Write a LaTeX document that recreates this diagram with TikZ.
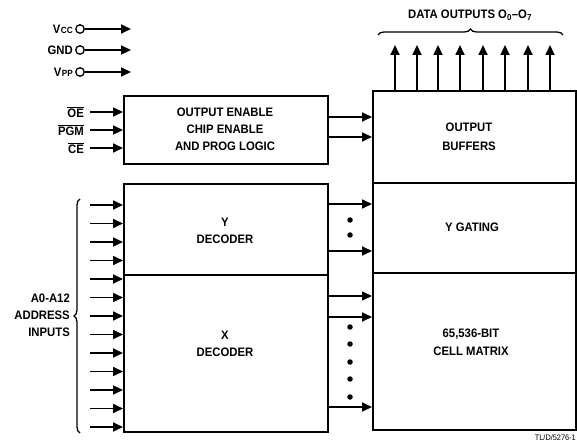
\documentclass[tikz,border=0pt]{standalone}
\usepackage{fontspec}
\setmainfont{Liberation Sans}[FakeStretch=0.92]
\usetikzlibrary{arrows.meta,decorations.pathreplacing,calc}
\begin{document}
\begin{tikzpicture}[x=1pt,y=-1pt,
  blk/.style={draw,line width=1.7pt,inner sep=0pt,anchor=north west},
  arr/.style={line width=1.7pt,-{Triangle[length=10pt,width=9pt]}},
  lbl/.style={font=\bfseries\fontsize{12.3}{14}\selectfont,align=center,inner sep=1pt},
  pin/.style={draw,circle,line width=1.3pt,minimum size=8.5pt,inner sep=0pt},
  dotc/.style={fill,circle,minimum size=5.5pt,inner sep=0pt},
  brc/.style={decorate,decoration={brace,amplitude=6pt},line width=1.3pt}]
\useasboundingbox (0,0) rectangle (577,443);
% blocks
\node[blk,minimum width=204pt,minimum height=68pt] (logic) at (123,95) {};
\node[blk,minimum width=204pt,minimum height=91pt] (ydec) at (123,183) {};
\node[blk,minimum width=204pt,minimum height=157pt] (xdec) at (123,274) {};
\node[blk,minimum width=203pt,minimum height=92pt] (obuf) at (372,90) {};
\node[blk,minimum width=203pt,minimum height=90pt] (ygat) at (372,182) {};
\node[blk,minimum width=203pt,minimum height=157pt] (cell) at (372,272) {};
% block texts
\node[lbl] (tlogic) at (225,129) {OUTPUT ENABLE\\[3pt]CHIP ENABLE\\[3pt]AND PROG LOGIC};
\node[lbl] (tobuf) at (469,137) {OUTPUT\\[5pt]BUFFERS};
\node[lbl] (tydec) at (225,231) {Y\\[3pt]DECODER};
\node[lbl] (txdec) at (225,344) {X\\[3pt]DECODER};
\node[lbl] (tygat) at (472,227) {Y GATING};
\node[lbl] (tcell) at (471,342) {65,536-BIT\\[4pt]CELL MATRIX};
% power pins
\foreach \n/\y/\t in {vcc/29/{V\kern0.3pt{\fontsize{9}{10}\selectfont CC}},gnd/50/GND,vpp/72/{V\kern0.3pt{\fontsize{9}{10}\selectfont PP}}}{
  \node[pin] (\n) at (80,\y) {};
  \node[lbl,anchor=east] (\n l) at (74,\y) {\t};
  \coordinate (\n e) at (131,\y);
  \draw[arr] (\n.east) -- (\n e);
}
% control inputs
\foreach \n/\y/\t in {oe/112/OE,pgm/130/PGM,ce/148/CE}{
  \node[lbl,anchor=east] (\n l) at (85,\y) {$\overline{\hbox{\t}}$};
  \coordinate (\n s) at (90,\y);
  \coordinate (\n e) at (123,\y);
  \draw[arr] (\n s) -- (\n e);
}
% logic to output buffers
\foreach \i/\y in {1/117,2/137}{
  \coordinate (lo\i) at (327,\y);
  \coordinate (bo\i) at (372,\y);
  \draw[arr] (lo\i) -- (bo\i);
}
% data outputs
\foreach \i/\x in {0/395,1/417,2/438,3/460,4/483,5/505,6/528,7/550}{
  \coordinate (ob\i) at (\x,90);
  \coordinate (ot\i) at (\x,45);
  \draw[arr] (ob\i) -- (ot\i);
}
\coordinate (bra) at (378,35);
\coordinate (brb) at (563,35);
\draw[brc] (bra) -- (brb);
\node[lbl] (tdata) at (470,15) {DATA OUTPUTS O\textsubscript{0}--O\textsubscript{7}};
% address inputs
\foreach \i in {0,...,12}{
  \pgfmathsetmacro{\yy}{205+18.5*\i}
  \coordinate (as\i) at (90,\yy);
  \coordinate (ae\i) at (123,\yy);
  \draw[arr] (as\i) -- (ae\i);
}
\coordinate (aba) at (80,433);
\coordinate (abb) at (80,199);
\draw[brc] (aba) -- (abb);
\node[lbl,anchor=east,align=right] (taddr) at (71,315) {A0-A12\\[3pt]ADDRESS\\[3pt]INPUTS};
% decoder to gating/matrix
\foreach \n/\y in {y1/204,y2/251,x1/296,x2/317,x3/407}{
  \coordinate (\n s) at (327,\y);
  \coordinate (\n e) at (372,\y);
  \draw[arr] (\n s) -- (\n e);
}
\foreach \n/\y in {d1/220,d2/235,d3/327,d4/344,d5/362,d6/379,d7/397}{
  \node[dotc] (\n) at (350,\y) {};
}
\node[font=\fontsize{8}{9}\selectfont,anchor=east,inner sep=0pt] (ref) at (576,438) {TL/D/5276-1};
\end{tikzpicture}
\end{document}
